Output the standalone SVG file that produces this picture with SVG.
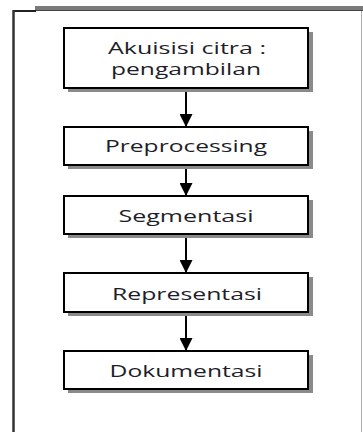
<svg xmlns="http://www.w3.org/2000/svg" width="363" height="432" viewBox="0 0 363 432">
  <style>
    .shadow { fill: #8a8a8a; }
    .box { fill: #ffffff; stroke: #000000; stroke-width: 2; }
    .label { font-family: "Open Sans", "Noto Sans", sans-serif; font-size: 17px; fill: #1e1e28; text-anchor: middle; }
    .link { stroke: #000000; stroke-width: 2; fill: none; marker-end: url(#head); }
  </style>
  <defs>
    <marker id="head" markerUnits="userSpaceOnUse" markerWidth="22" markerHeight="13" refX="22" refY="11" orient="auto" viewBox="0 0 22 22">
      <path d="M0,0 L22,11 L0,22 Z" fill="#000000"/>
    </marker>
  </defs>
  <rect width="363" height="432" fill="#ffffff"/>

  <!-- outer frame -->
  <g id="frame">
    <rect x="35" y="6" width="328" height="5" fill="#7a7a7a"/>
    <line x1="35" y1="10.5" x2="363" y2="10.5" stroke="#444" stroke-width="1"/>
    <line x1="13" y1="11" x2="36" y2="11" stroke="#222" stroke-width="2"/>
    <line x1="13.5" y1="10" x2="13.5" y2="432" stroke="#333" stroke-width="2.5"/>
    <line x1="361.5" y1="11" x2="361.5" y2="432" stroke="#b0b0b0" stroke-width="1"/>
  </g>

  <!-- connectors -->
  <g id="connectors">
    <line class="link" x1="186" y1="89" x2="186" y2="127"/>
    <line class="link" x1="186" y1="166" x2="186" y2="196"/>
    <line class="link" x1="186" y1="234" x2="186" y2="273"/>
    <line class="link" x1="186" y1="312" x2="186" y2="351"/>
  </g>

  <g id="akuisisi">
    <rect class="shadow" x="68" y="32" width="245" height="60"/>
    <rect class="box" x="64" y="28" width="244" height="60"/>
    <text class="label" x="187" y="54" textLength="158" lengthAdjust="spacingAndGlyphs">Akuisisi citra :</text>
    <text class="label" x="186" y="75" textLength="150" lengthAdjust="spacingAndGlyphs">pengambilan</text>
  </g>

  <g id="preprocessing">
    <rect class="shadow" x="68" y="131" width="245" height="38"/>
    <rect class="box" x="64" y="127" width="244" height="38"/>
    <text class="label" x="186" y="152" textLength="162" lengthAdjust="spacingAndGlyphs">Preprocessing</text>
  </g>

  <g id="segmentasi">
    <rect class="shadow" x="68" y="200" width="245" height="38"/>
    <rect class="box" x="64" y="196" width="244" height="38"/>
    <text class="label" x="186" y="222" textLength="135" lengthAdjust="spacingAndGlyphs">Segmentasi</text>
  </g>

  <g id="representasi">
    <rect class="shadow" x="68" y="277" width="245" height="39"/>
    <rect class="box" x="64" y="273" width="244" height="39"/>
    <text class="label" x="187" y="300" textLength="150" lengthAdjust="spacingAndGlyphs">Representasi</text>
  </g>

  <g id="dokumentasi">
    <rect class="shadow" x="68" y="355" width="245" height="38"/>
    <rect class="box" x="64" y="351" width="244" height="38"/>
    <text class="label" x="186" y="377" textLength="153" lengthAdjust="spacingAndGlyphs">Dokumentasi</text>
  </g>
</svg>
